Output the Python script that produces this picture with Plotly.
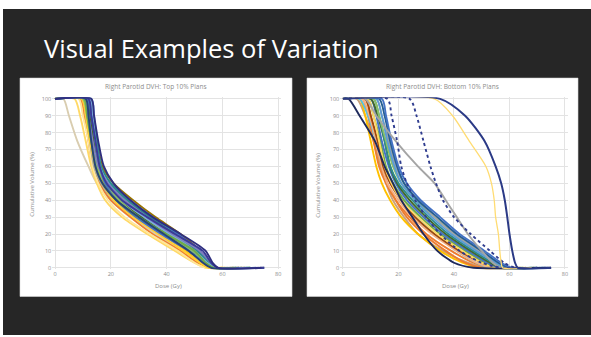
import plotly.graph_objects as go

W, H = 591, 337

SLIDE_TITLE = "Visual Examples of Variation"
LEFT_TITLE = "Right Parotid DVH: Top 10% Plans"
RIGHT_TITLE = "Right Parotid DVH: Bottom 10% Plans"
X_TITLE = "Dose (Gy)"
Y_TITLE = "Cumulative Volume (%)"
X_TICKS = [0, 20, 40, 60, 80]
Y_TICKS = [0, 10, 20, 30, 40, 50, 60, 70, 80, 90, 100]

# volume levels (%) shared by every curve; each curve gives the dose (Gy) at those levels
VOL = [100, 100, 90, 75, 60, 50, 40, 30, 20, 10, 3, 0, 0]

LEFT_DOSES = [
    [0, 3, 5, 8, 12, 15, 20, 27, 36, 45, 51, 55, 62],
    [0, 9, 10.5, 12, 13.5, 16, 20, 27, 35, 45, 51, 55, 64],
    [0, 7, 9, 11, 13, 15, 18, 24, 33, 43, 50, 54, 58],
    [0, 8.5, 10, 12, 13.5, 15.5, 19, 25, 34, 44, 50, 54, 60],
    [0, 10, 11.5, 13, 15, 18, 24, 31, 40, 49, 54, 57, 66],
    [0, 12, 13, 14, 15.5, 19, 25, 32, 41, 50, 54, 57, 70],
    [0, 10.5, 12, 13.5, 15, 17.5, 23, 30, 38, 47, 52, 55.5, 60],
    [0, 12.5, 13.5, 15, 17, 21, 28, 36, 45, 52, 55.5, 58, 68],
    [0, 11.5, 12.5, 14, 16, 20, 27, 35, 44, 52, 55, 57.5, 72],
    [0, 13, 14, 15, 16.5, 19.5, 26, 33, 42, 51, 55, 58, 65],
    [0, 10, 11, 12.5, 14, 16.5, 21, 29, 38, 48, 53, 56, 63],
    [0, 11, 12.5, 14, 15.5, 18, 23, 31, 40, 50, 54.5, 57, 67],
    [0, 9.5, 11, 12.5, 14.5, 17, 21, 28, 37, 46, 52, 55, 61],
    [0, 12, 13.5, 15, 16.5, 20, 26, 34, 43, 51, 55, 57.5, 70],
    [0, 10, 11.5, 13, 15, 18, 23, 30, 39, 49, 54, 56.5, 64],
    [0, 12.5, 13.5, 14.5, 16, 19, 24, 32, 41, 50, 54.5, 57.5, 69],
    [0, 11.5, 13, 14.5, 16, 18, 22, 29, 38, 48, 53.5, 56.5, 66],
    [0, 10.5, 11.5, 13, 14.5, 17, 22, 30, 40, 50, 54, 57, 65],
    [0, 11, 12, 13.5, 15.5, 19, 25, 33, 42, 52, 56, 58.5, 73],
    [0, 11, 12, 13, 14.5, 17, 22, 30, 39, 48, 53, 56, 75],
    [0, 12, 13, 14.5, 16, 18.5, 24, 33, 43, 53, 56, 58.5, 75],
    [0, 13, 14, 15.5, 17.5, 21, 27, 35, 45, 54, 56.5, 58.5, 74],
]
LEFT_COLORS = [
    "#D9CDB0", "#ED7D31", "#FFD966", "#FFE699", "#FFC000", "#70AD47",
    "#FFC000", "#997300", "#4472C4", "#5B9BD5", "#A5A5A5", "#43682B",
    "#FFCD33", "#2E8B8B", "#8CC168", "#7CAFDD", "#4472C4", "#70AD47",
    "#7F7FBF", "#264478", "#3B3B98", "#2F2F7F",
]

RIGHT_DOSES = [
    [0, 5, 8, 11, 13.5, 15.5, 18, 22, 27, 36, 45, 52, 58],
    [0, 6, 8, 10, 12, 14, 17, 21, 27, 35, 43, 49, 60],
    [0, 7, 9, 11, 13, 15.5, 19, 24, 30, 39, 47, 53, 60],
    [0, 8, 10, 12, 14, 16, 19, 23, 29, 37, 44, 50, 64],
    [0, 6, 9, 12, 15, 18, 22, 27, 33, 41, 48, 53, 61],
    [0, 7, 9.5, 12, 14, 16, 20, 25, 32, 41, 48, 54, 62],
    [0, 8, 10, 12.5, 14.5, 17, 21, 26, 33, 42, 50, 55, 63],
    [0, 9, 11, 13.5, 15.5, 18, 22, 28, 35, 44, 51, 56, 65],
    [0, 9, 11, 13, 15, 17.5, 21, 27, 34, 43, 50, 55, 66],
    [0, 10, 12, 14, 16.5, 19, 23, 29, 36, 45, 52, 57, 70],
    [0, 10, 12.5, 15, 17, 19.5, 24, 30, 37, 46, 53, 57, 69],
    [0, 11, 13, 15, 17, 20, 25, 31, 38, 47, 54, 58, 68],
    [0, 11, 13, 15.5, 18, 21, 26, 33, 40, 49, 55, 59, 70],
    [0, 12, 14, 16.5, 19, 22, 27, 33, 40, 49, 56, 60, 71],
    [0, 12, 14, 16, 18.5, 21, 26, 32, 39, 48, 55, 59, 72],
    [0, 13, 15, 17, 19.5, 22, 27, 34, 41, 50, 56, 60, 73],
    [0, 14, 15.5, 17.5, 20, 23, 28, 35, 42, 51, 57, 61, 74],
    [0, 8, 12, 19, 27, 33, 37, 41, 45, 50, 54, 57, 62],
    [0, 2, 6, 11.5, 15, 18, 21, 25, 29, 34, 40, 47, 75],
    [0, 16, 17.5, 19.5, 21, 23, 26, 30, 35, 42, 50, 57, 66],
    [0, 24, 26.5, 29, 31.5, 33.5, 36, 40, 46, 53, 58, 62, 70],
    [0, 33, 39.5, 45.5, 51.5, 53.5, 54.5, 55, 56, 56.5, 57, 57.5, 68],
    [0, 35, 44, 51, 55, 57, 58.3, 59.2, 60, 61, 62, 63, 75],
]
RIGHT_COLORS = [
    "#C9A27E", "#FFC000", "#ED7D31", "#ED7D31", "#5BC0DE", "#F4B183",
    "#9E480E", "#70AD47", "#FFD966", "#4472C4", "#43682B", "#2E8B8B",
    "#8CC168", "#A5A5A5", "#5B9BD5", "#255E91", "#4472C4", "#A5A5A5",
    "#1F2A5C", "#2F3C8F", "#2F3C8F", "#FFDC73", "#2B3A86",
]
RIGHT_DASH = ["solid"] * 17 + ["solid", "solid", "dot", "dot", "solid", "solid"]
RIGHT_WIDTH = [1.9] * 21 + [1.3, 2.0]


def fx(px):
    return px / W


def fy(py):
    return 1 - py / H


fig = go.Figure()

for d, c in zip(LEFT_DOSES, LEFT_COLORS):
    fig.add_trace(go.Scatter(x=d, y=VOL, mode="lines", xaxis="x", yaxis="y",
                             line=dict(color=c, width=1.9, shape="spline", smoothing=0.7),
                             showlegend=False, hoverinfo="skip"))
for d, c, ds, w in zip(RIGHT_DOSES, RIGHT_COLORS, RIGHT_DASH, RIGHT_WIDTH):
    fig.add_trace(go.Scatter(x=d, y=VOL, mode="lines", xaxis="x2", yaxis="y2",
                             line=dict(color=c, width=w, shape="spline", smoothing=0.7, dash=ds),
                             showlegend=False, hoverinfo="skip"))

axis_common = dict(showgrid=True, gridcolor="#E3E3E3", gridwidth=0.6, zeroline=False,
                   showline=False, ticks="", tickfont=dict(family="Open Sans", size=5.5, color="#8C8C8C"))

# x: 0 Gy at px 55 / 343 ; y: 0 % at py 269, 1.71 px per %
ypx = 1.71
y_dom = [fy(269 + ypx * 1), fy(98 - ypx * 1)]
lx0, lsc = 55, 2.79
rx0, rsc = 343, 2.775

ann_font = dict(family="Open Sans", size=6, color="#8C8C8C")


def ann(text, x, y, size=6, angle=0):
    return dict(text=text, xref="paper", yref="paper", x=fx(x), y=fy(y), xanchor="center",
                yanchor="middle", showarrow=False, textangle=angle,
                font=dict(family="Open Sans", size=size, color="#8C8C8C"))


fig.update_layout(
    width=W, height=H,
    margin=dict(l=0, r=0, t=0, b=0),
    paper_bgcolor="white", plot_bgcolor="rgba(0,0,0,0)",
    xaxis=dict(domain=[fx(lx0 - lsc), fx(lx0 + 81 * lsc)], range=[-1, 81], tickvals=X_TICKS, **axis_common),
    yaxis=dict(domain=y_dom, range=[-1, 101], tickvals=Y_TICKS, anchor="x", **axis_common),
    xaxis2=dict(domain=[fx(rx0 - rsc), fx(rx0 + 81 * rsc)], range=[-1, 81], tickvals=X_TICKS, anchor="y2", **axis_common),
    yaxis2=dict(domain=y_dom, range=[-1, 101], tickvals=Y_TICKS, anchor="x2", **axis_common),
    shapes=[
        dict(type="rect", xref="paper", yref="paper", x0=fx(3), x1=1, y0=0, y1=fy(7),
             fillcolor="#262626", line=dict(width=0), layer="below"),
        dict(type="rect", xref="paper", yref="paper", x0=fx(20), x1=fx(292), y0=fy(298), y1=fy(77),
             fillcolor="white", line=dict(width=0.6, color="#D9D9D9"), layer="below"),
        dict(type="rect", xref="paper", yref="paper", x0=fx(307), x1=fx(578), y0=fy(298), y1=fy(77),
             fillcolor="white", line=dict(width=0.6, color="#D9D9D9"), layer="below"),
    ],
    annotations=[
        dict(text=SLIDE_TITLE, xref="paper", yref="paper", x=fx(42), y=fy(47), xanchor="left", yanchor="middle",
             showarrow=False, font=dict(family="Open Sans", size=25.5, color="white")),
        ann(LEFT_TITLE, 156, 86, size=6.5),
        ann(RIGHT_TITLE, 442, 86, size=6.5),
        ann(X_TITLE, 168, 287),
        ann(X_TITLE, 455, 287),
        ann(Y_TITLE, 32, 185, angle=-90),
        ann(Y_TITLE, 318, 185, angle=-90),
    ],
)

fig.write_html("out.html")
